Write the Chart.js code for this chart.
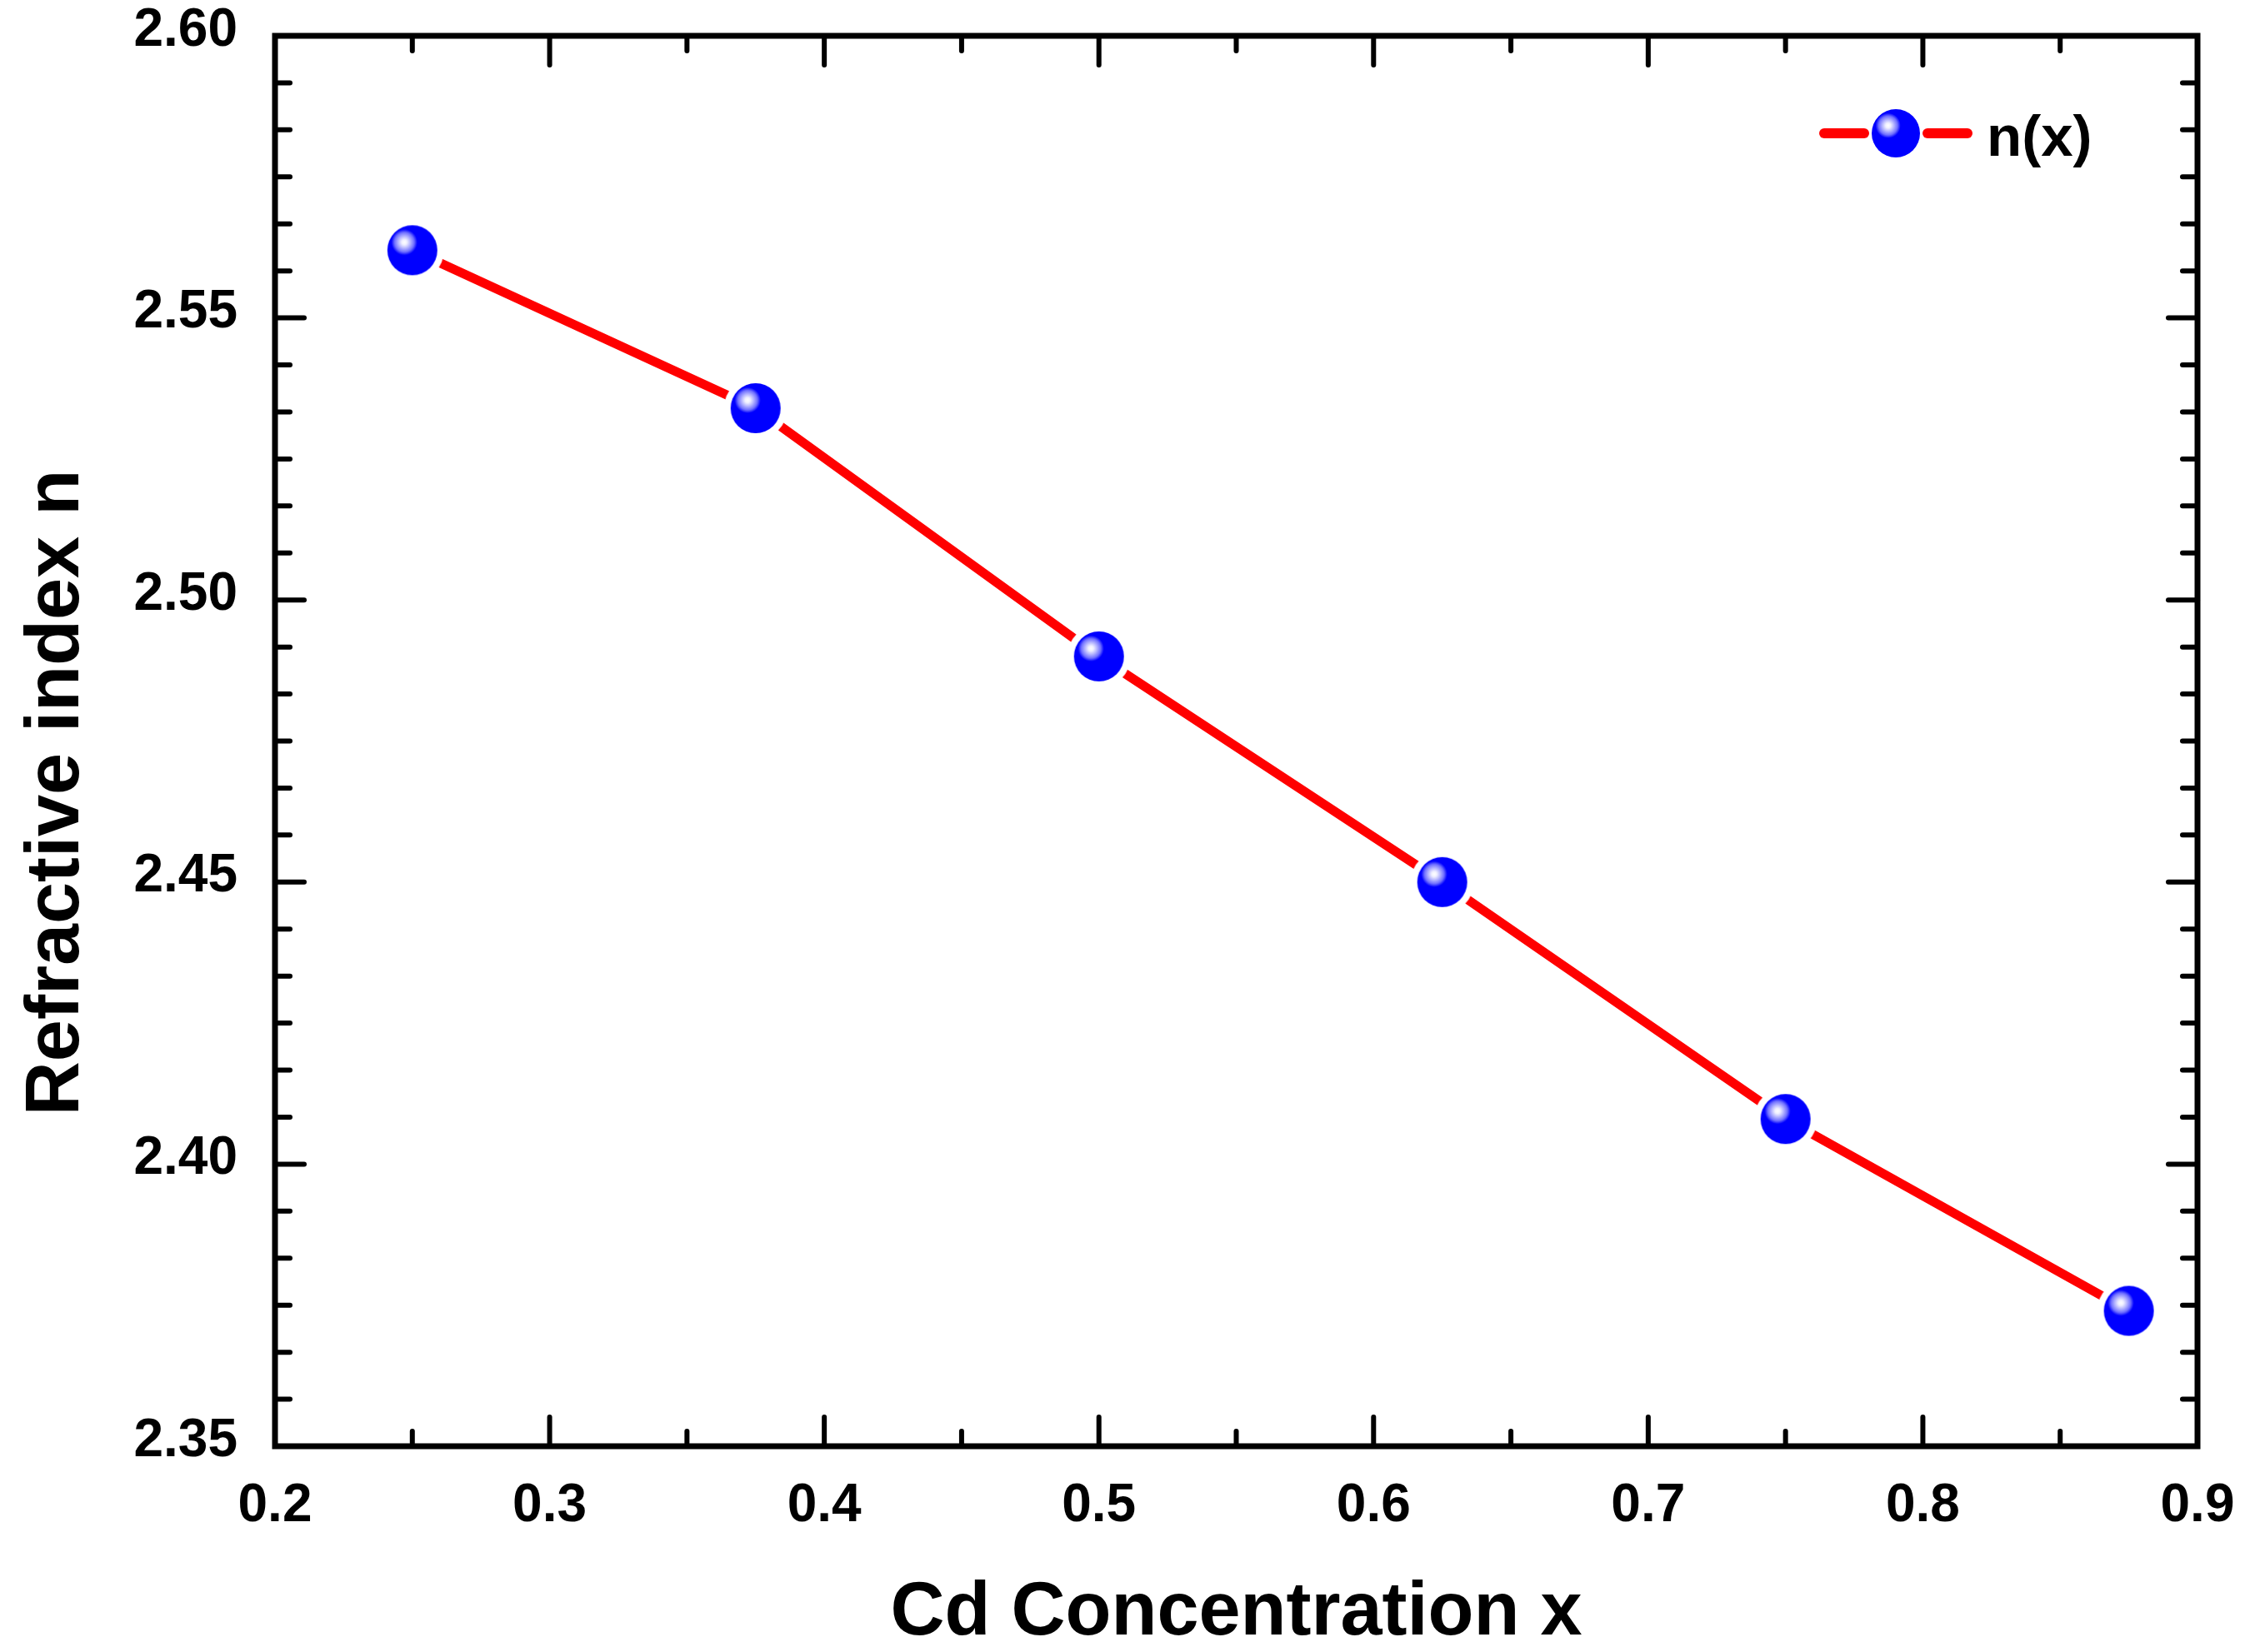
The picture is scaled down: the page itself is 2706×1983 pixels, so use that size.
<!DOCTYPE html>
<html><head><meta charset="utf-8">
<script src="https://cdn.jsdelivr.net/npm/chart.js@4/dist/chart.umd.min.js"></script>
<style>html,body{margin:0;padding:0;background:#fff;overflow:hidden}canvas{display:block}</style>
</head><body>
<canvas id="c" width="2706" height="1983"></canvas>
<script>
// ---- data ----
const concentrations = [0.25, 0.375, 0.5, 0.625, 0.75, 0.875];
const refractiveIndex = [2.562, 2.534, 2.490, 2.450, 2.408, 2.374];
const seriesLabel = 'n(x)';
const xTitle = 'Cd Concentration x';
const yTitle = 'Refractive index n';
const xTickLabels = ['0.2', '0.3', '0.4', '0.5', '0.6', '0.7', '0.8', '0.9'];
const yTickLabels = ['2.35', '2.40', '2.45', '2.50', '2.55', '2.60'];

// ---- style ----
const FONT = '"Liberation Sans", Arial, Helvetica, sans-serif';
const X_MINOR = 1, Y_MINOR = 5;
const MAJ = 35, MIN = 18;

function makeSphere(r, ring) {
  const size = Math.ceil((ring || r) * 2 + 4);
  const cv = document.createElement('canvas');
  cv.width = size; cv.height = size;
  const g = cv.getContext('2d');
  const c = size / 2;
  if (ring) { g.fillStyle = '#ffffff'; g.beginPath(); g.arc(c, c, ring, 0, Math.PI * 2); g.fill(); }
  g.fillStyle = '#0000ff'; g.beginPath(); g.arc(c, c, r, 0, Math.PI * 2); g.fill();
  const hx = c - r * 0.32, hy = c - r * 0.32;
  const grad = g.createRadialGradient(hx, hy, 0, hx, hy, r * 0.52);
  grad.addColorStop(0, '#ffffff');
  grad.addColorStop(0.2, '#f0f0ff');
  grad.addColorStop(0.45, '#b8b8ff');
  grad.addColorStop(0.75, '#7070ff');
  grad.addColorStop(1, '#0000ff');
  g.save(); g.beginPath(); g.arc(c, c, r, 0, Math.PI * 2); g.clip();
  g.fillStyle = grad; g.beginPath(); g.arc(hx, hy, r * 0.52, 0, Math.PI * 2); g.fill();
  g.restore();
  return cv;
}
const sphereData = makeSphere(30, 38);
const sphereLegend = makeSphere(29, 0);

const framePlugin = {
  id: 'frame',
  beforeDatasetsDraw(chart) {
    const { ctx, chartArea: a, scales: { x, y } } = chart;
    ctx.save();
    ctx.strokeStyle = '#000';
    ctx.lineCap = 'round';
    ctx.lineWidth = 6;
    const seg = (x0, y0, x1, y1) => { ctx.beginPath(); ctx.moveTo(x0, y0); ctx.lineTo(x1, y1); ctx.stroke(); };
    const xs = xTickLabels.map(parseFloat);
    xs.forEach((v, i) => {
      const px = x.getPixelForValue(v);
      seg(px, a.bottom, px, a.bottom - MAJ); seg(px, a.top, px, a.top + MAJ);
      if (i < xs.length - 1) for (let k = 1; k <= X_MINOR; k++) {
        const pm = x.getPixelForValue(v + (xs[i + 1] - v) * k / (X_MINOR + 1));
        seg(pm, a.bottom, pm, a.bottom - MIN); seg(pm, a.top, pm, a.top + MIN);
      }
    });
    const ys = yTickLabels.map(parseFloat);
    ys.forEach((v, i) => {
      const py = y.getPixelForValue(v);
      seg(a.left, py, a.left + MAJ, py); seg(a.right, py, a.right - MAJ, py);
      if (i < ys.length - 1) for (let k = 1; k <= Y_MINOR; k++) {
        const pm = y.getPixelForValue(v + (ys[i + 1] - v) * k / (Y_MINOR + 1));
        seg(a.left, pm, a.left + MIN, pm); seg(a.right, pm, a.right - MIN, pm);
      }
    });
    ctx.lineWidth = 7;
    ctx.lineJoin = 'miter';
    ctx.strokeRect(a.left, a.top, a.right - a.left, a.bottom - a.top);
    ctx.restore();
  }
};

const titleLegendPlugin = {
  id: 'titleLegend',
  afterDraw(chart) {
    const { ctx, chartArea: a } = chart;
    ctx.save();
    // y-axis title (rotated)
    ctx.fillStyle = '#000';
    ctx.font = 'bold 90px ' + FONT;
    ctx.translate(a.left - 236, (a.top + a.bottom) / 2 + 62);
    ctx.rotate(-Math.PI / 2);
    ctx.textAlign = 'center';
    ctx.textBaseline = 'alphabetic';
    ctx.fillText(yTitle, 0, 0);
    ctx.restore();

    // legend
    const cy = a.top + 117;
    const cx = a.right - 362;
    ctx.save();
    ctx.strokeStyle = '#ff0000'; ctx.lineWidth = 12; ctx.lineCap = 'round';
    ctx.beginPath(); ctx.moveTo(cx - 86, cy); ctx.lineTo(cx - 38, cy); ctx.stroke();
    ctx.beginPath(); ctx.moveTo(cx + 38, cy); ctx.lineTo(cx + 86, cy); ctx.stroke();
    ctx.drawImage(sphereLegend, cx - sphereLegend.width / 2, cy - sphereLegend.height / 2);
    ctx.fillStyle = '#000';
    ctx.font = 'bold 69px ' + FONT;
    ctx.textBaseline = 'alphabetic';
    ctx.textAlign = 'left';
    ctx.fillText(seriesLabel, cx + 109, cy + 27);
    ctx.restore();
  }
};

const findLabel = (labels, v) => labels.find(t => Math.abs(parseFloat(t) - v) < 1e-9) || '';
const noPad = s => { s.paddingTop = 0; s.paddingBottom = 0; s.paddingLeft = 0; s.paddingRight = 0; };

new Chart(document.getElementById('c'), {
  type: 'scatter',
  data: {
    datasets: [{
      label: seriesLabel,
      data: concentrations.map((xv, i) => ({ x: xv, y: refractiveIndex[i] })),
      showLine: true,
      borderColor: '#ff0000',
      borderWidth: 11,
      borderCapStyle: 'round',
      tension: 0,
      pointStyle: sphereData,
      pointRadius: 30,
      pointHoverRadius: 30,
      clip: false
    }]
  },
  options: {
    responsive: false,
    devicePixelRatio: 1,
    animation: false,
    events: [],
    layout: { padding: { top: 43, right: 69, left: 0, bottom: 0 } },
    plugins: { legend: { display: false }, tooltip: { enabled: false } },
    scales: {
      x: {
        type: 'linear',
        min: parseFloat(xTickLabels[0]),
        max: parseFloat(xTickLabels[xTickLabels.length - 1]),
        grid: { display: false, drawTicks: false },
        border: { display: false },
        afterBuildTicks: s => { s.ticks = xTickLabels.map(t => ({ value: parseFloat(t) })); },
        ticks: {
          callback: v => findLabel(xTickLabels, v),
          font: { family: FONT, size: 64, weight: 'bold' },
          color: '#000', padding: 34, maxRotation: 0, autoSkip: false
        },
        title: {
          display: true, text: xTitle, color: '#000',
          font: { family: FONT, size: 90, weight: 'bold', lineHeight: 1 },
          padding: { top: 0, bottom: 1 }
        },
        afterFit: s => { s.height = 247; noPad(s); }
      },
      y: {
        type: 'linear',
        min: parseFloat(yTickLabels[0]),
        max: parseFloat(yTickLabels[yTickLabels.length - 1]),
        grid: { display: false, drawTicks: false },
        border: { display: false },
        afterBuildTicks: s => { s.ticks = yTickLabels.map(t => ({ value: parseFloat(t) })); },
        ticks: {
          callback: v => findLabel(yTickLabels, v),
          font: { family: FONT, size: 64, weight: 'bold' },
          color: '#000', padding: 45, autoSkip: false, labelOffset: -6
        },
        title: { display: false },
        afterFit: s => { s.width = 330; noPad(s); }
      }
    }
  },
  plugins: [framePlugin, titleLegendPlugin]
});
</script>
</body></html>
